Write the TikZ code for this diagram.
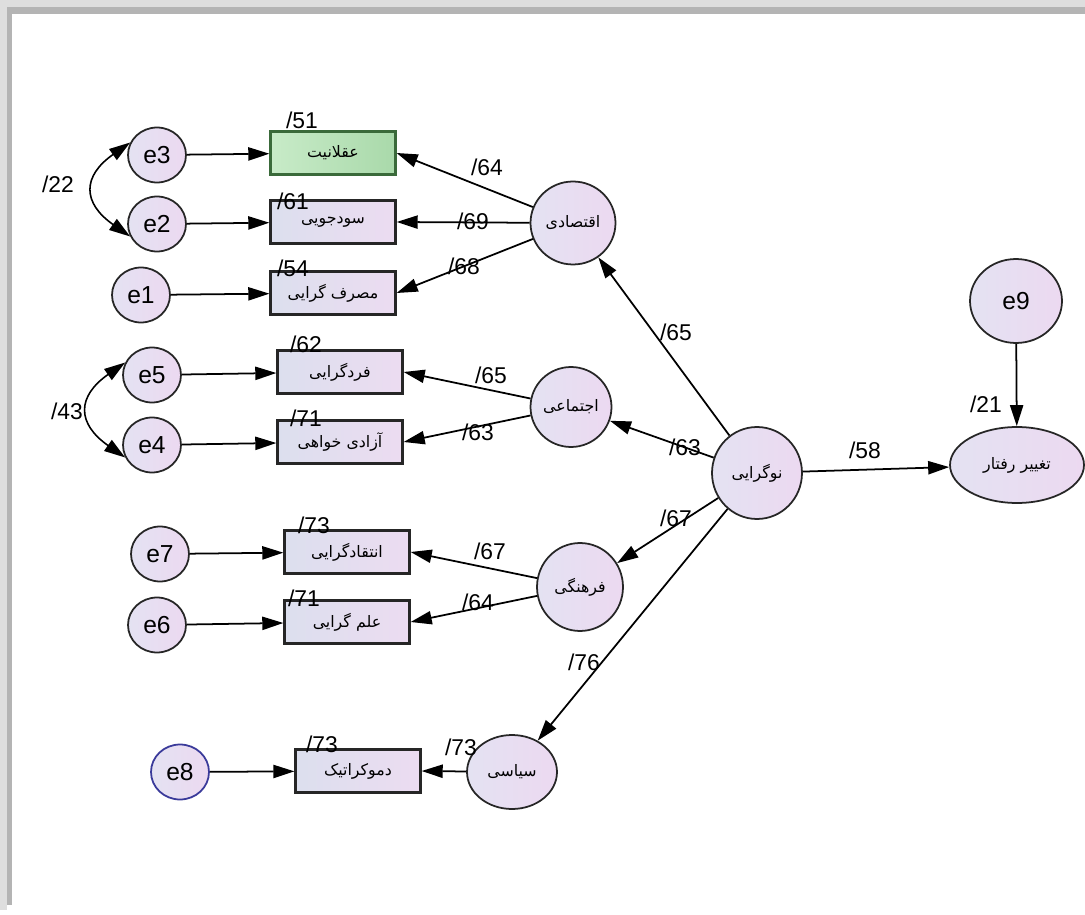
\documentclass[tikz,border=0pt]{standalone}
\usepackage{fontspec}
\setmainfont{Liberation Sans}
\newfontfamily\fafont[Script=Arabic]{DejaVu Sans}
\TeXXeTstate=1
\usetikzlibrary{arrows.meta,shapes.geometric}

\definecolor{latL}{HTML}{E4E2F2}
\definecolor{latR}{HTML}{ECD9F1}
\definecolor{boxL}{HTML}{DCDFEE}
\definecolor{boxR}{HTML}{ECDCF1}
\definecolor{grnL}{HTML}{C8EBC8}
\definecolor{grnR}{HTML}{A9D9AA}
\definecolor{grnD}{HTML}{3A6A3A}
\definecolor{frameL}{HTML}{DEDEDE}
\definecolor{frameD}{HTML}{B4B4B4}
\definecolor{errblue}{HTML}{3A3A9A}

\newcommand{\fa}[1]{{\fafont\beginR #1\endR}}

\tikzset{
	errnode/.style={ellipse, draw=black!85, line width=1pt, left color=latL, right color=latR,
		minimum width=1.16cm, minimum height=1.1cm, inner sep=0pt, font=\fontsize{14}{15}\selectfont},
	latnode/.style={ellipse, draw=black!85, line width=1pt, left color=latL, right color=latR,
		inner sep=0pt, font=\fafont\fontsize{9}{10}\selectfont},
	indbox/.style={rectangle, draw=black!85, line width=1.3pt, left color=boxL, right color=boxR,
		minimum width=2.5cm, minimum height=0.86cm, inner sep=0pt, font=\fafont\fontsize{9}{10}\selectfont},
	regpath/.style={-{Triangle[length=12pt,width=7.5pt]}, line width=1pt},
	covpath/.style={{Triangle[length=12pt,width=7.5pt]}-{Triangle[length=12pt,width=7.5pt]}, line width=0.9pt},
	coef/.style={inner sep=0pt, font=\fontsize{13}{14}\selectfont}
}

\begin{document}
\begin{tikzpicture}[x=0.02cm, y=-0.02cm]
	\useasboundingbox (0,0) rectangle (1085,915);
	\fill[white] (0,0) rectangle (1085,915);

	% frame
	\fill[frameL] (0,0) rectangle (1085,7);
	\fill[frameD] (7,7) rectangle (1085,14);
	\fill[frameL] (0,0) rectangle (7,910);
	\fill[frameD] (7,7) rectangle (12,905);

	% economic block
	\node[errnode] (e3) at (157,155) {e3};
	\node[errnode] (e2) at (157,224) {e2};
	\node[errnode] (e1) at (141,295) {e1};
	\node[indbox, draw=grnD, left color=grnL, right color=grnR] (aql) at (333,153) {\fa{عقلانیت}};
	\node[indbox] (sud) at (333,222) {\fa{سودجویی}};
	\node[indbox] (mas) at (333,293) {\fa{مصرف گرایی}};
	\node[latnode, minimum width=1.7cm, minimum height=1.66cm] (eqt) at (573,223) {\fa{اقتصادی}};

	% social block
	\node[errnode] (e5) at (152,375) {e5};
	\node[errnode] (e4) at (152,445) {e4};
	\node[indbox] (fard) at (340,372) {\fa{فردگرایی}};
	\node[indbox] (azad) at (340,442) {\fa{آزادی خواهی}};
	\node[latnode, minimum width=1.62cm, minimum height=1.6cm] (ejt) at (571,407) {\fa{اجتماعی}};

	% cultural block
	\node[errnode] (e7) at (160,554) {e7};
	\node[errnode] (e6) at (157,625) {e6};
	\node[indbox] (enq) at (347,552) {\fa{انتقادگرایی}};
	\node[indbox] (elm) at (347,622) {\fa{علم گرایی}};
	\node[latnode, minimum width=1.72cm, minimum height=1.76cm] (frh) at (580,587) {\fa{فرهنگی}};

	% political block
	\node[errnode, draw=errblue] (e8) at (180,772) {e8};
	\node[indbox] (dem) at (358,771) {\fa{دموکراتیک}};
	\node[latnode, minimum width=1.8cm, minimum height=1.48cm] (sys) at (512,772) {\fa{سیاسی}};

	% modernism and behaviour
	\node[latnode, minimum width=1.8cm, minimum height=1.84cm] (nov) at (757,473) {\fa{نوگرایی}};
	\node[errnode, minimum width=1.84cm, minimum height=1.68cm] (e9) at (1016,301) {e9};
	\node[latnode, minimum width=2.68cm, minimum height=1.52cm] (tag) at (1017,465) {\fa{تغییر رفتار}};

	% error paths
	\draw[regpath] (e3) -- (aql);
	\draw[regpath] (e2) -- (sud);
	\draw[regpath] (e1) -- (mas);
	\draw[regpath] (e5) -- (fard);
	\draw[regpath] (e4) -- (azad);
	\draw[regpath] (e7) -- (enq);
	\draw[regpath] (e6) -- (elm);
	\draw[regpath] (e8) -- (dem);
	\draw[regpath] (e9) -- (tag);

	% covariances
	\draw[covpath] (e3.155) to[out=215, in=145, looseness=1.6] (e2.205);
	\draw[covpath] (e5.155) to[out=215, in=145, looseness=1.6] (e4.205);

	% loadings
	\draw[regpath] (eqt) -- (aql.east);
	\draw[regpath] (eqt) -- (sud.east);
	\draw[regpath] (eqt) -- (mas.east);
	\draw[regpath] (ejt) -- (fard.east);
	\draw[regpath] (ejt) -- (azad.east);
	\draw[regpath] (frh) -- (enq.east);
	\draw[regpath] (frh) -- (elm.east);
	\draw[regpath] (sys) -- (dem.east);

	% structural paths
	\draw[regpath] (nov) -- (eqt);
	\draw[regpath] (nov) -- (ejt);
	\draw[regpath] (nov) -- (frh);
	\draw[regpath] (nov) -- (sys);
	\draw[regpath] (nov) -- (tag);

	% coefficients
	\node[coef] (r51) at (302,120) {/51};
	\node[coef] (r61) at (293,201) {/61};
	\node[coef] (r54) at (293,268) {/54};
	\node[coef] (p64) at (487,167) {/64};
	\node[coef] (p69) at (473,221) {/69};
	\node[coef] (p68) at (464,266) {/68};
	\node[coef] (c22) at (58,184) {/22};
	\node[coef] (r62) at (306,344) {/62};
	\node[coef] (r71a) at (306,418) {/71};
	\node[coef] (p65a) at (491,375) {/65};
	\node[coef] (p63a) at (478,432) {/63};
	\node[coef] (c43) at (67,411) {/43};
	\node[coef] (r73a) at (314,525) {/73};
	\node[coef] (r71b) at (304,598) {/71};
	\node[coef] (p67a) at (490,551) {/67};
	\node[coef] (p64b) at (478,602) {/64};
	\node[coef] (r73b) at (322,744) {/73};
	\node[coef] (p73) at (461,747) {/73};
	\node[coef] (s65) at (676,332) {/65};
	\node[coef] (s63) at (685,447) {/63};
	\node[coef] (s67) at (676,518) {/67};
	\node[coef] (s76) at (584,662) {/76};
	\node[coef] (s58) at (865,450) {/58};
	\node[coef] (r21) at (986,404) {/21};
\end{tikzpicture}
\end{document}
